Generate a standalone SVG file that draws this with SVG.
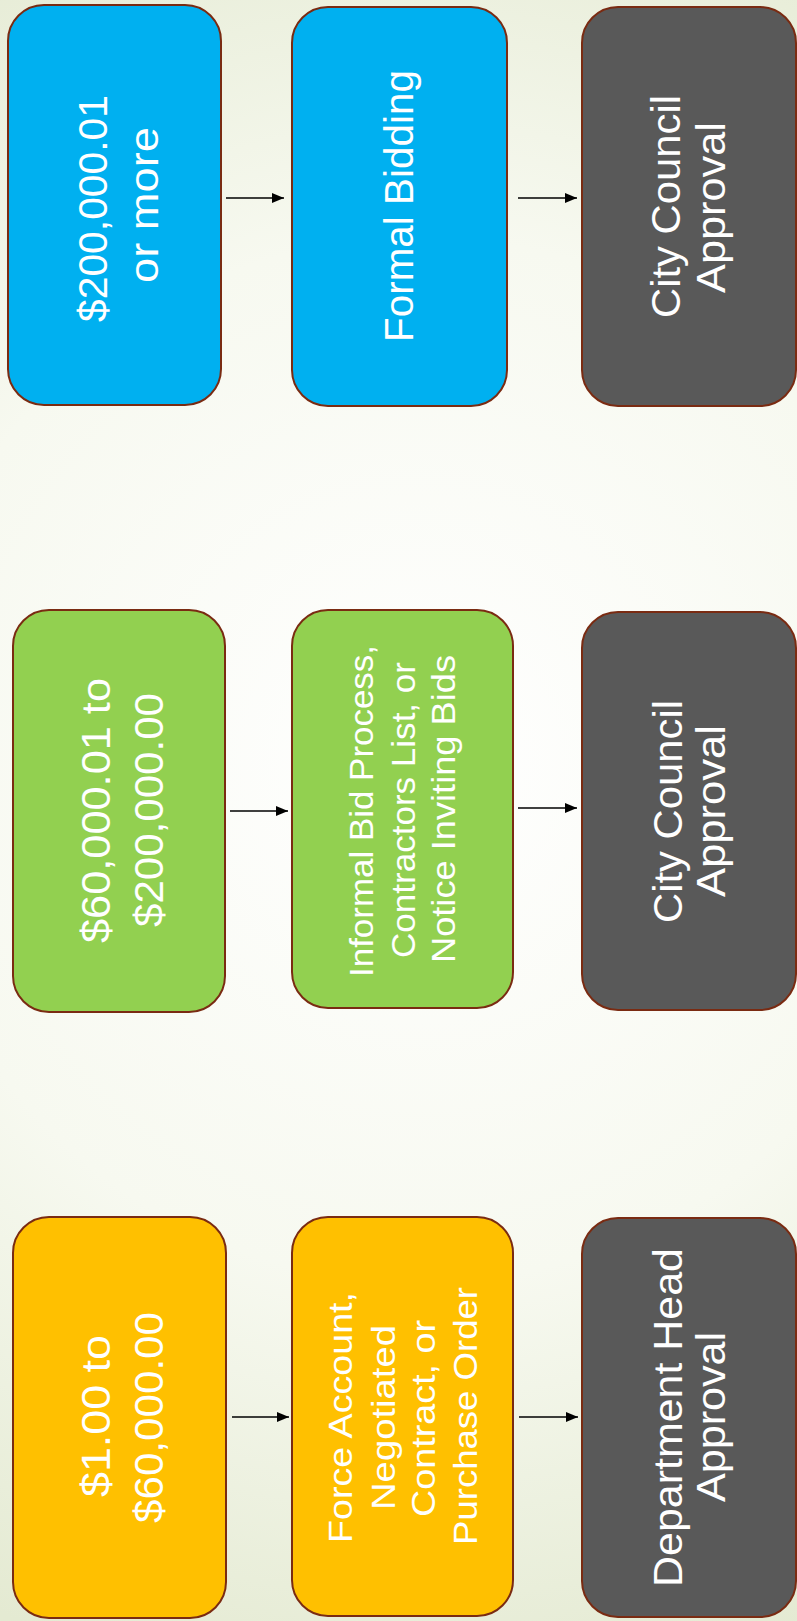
<svg xmlns="http://www.w3.org/2000/svg" width="797" height="1621" viewBox="0 0 797 1621">
<defs>
<radialGradient id="bg" gradientUnits="userSpaceOnUse" cx="420" cy="760" r="950">
<stop offset="0" stop-color="#ffffff"/>
<stop offset="0.55" stop-color="#f7f9f0"/>
<stop offset="1" stop-color="#e4ead2"/>
</radialGradient>
<marker id="ah" markerWidth="12" markerHeight="10" refX="12" refY="5" orient="auto" markerUnits="userSpaceOnUse">
<path d="M0,0 L12,5 L0,10 Z" fill="#000"/>
</marker>
<style>
.box{stroke:#7a2b12;stroke-width:2}
.blue{fill:#00b0f0}
.green{fill:#92d050}
.gold{fill:#ffc000}
.gray{fill:#595959}
text{font-family:"Liberation Sans",Arial,sans-serif;fill:#ffffff;text-anchor:middle}
.big{font-size:40px}
.mid{font-size:34px}
.conn line{stroke:#000;stroke-width:1.4;marker-end:url(#ah)}
</style>
</defs>
<rect x="0" y="0" width="797" height="1621" fill="url(#bg)"/>

<g id="a1">
<rect class="box blue" x="8" y="5" width="213" height="400" rx="36"/>
<text class="big" transform="rotate(-90)"><tspan x="-208.5" y="107" textLength="227" lengthAdjust="spacingAndGlyphs">$200,000.01</tspan><tspan x="-205" y="158" textLength="156" lengthAdjust="spacingAndGlyphs">or more</tspan></text>
</g>
<g id="a2">
<rect class="box blue" x="292" y="7" width="215" height="399" rx="36"/>
<text class="big" transform="rotate(-90)"><tspan x="-206" y="413" textLength="272" lengthAdjust="spacingAndGlyphs">Formal Bidding</tspan></text>
</g>
<g id="a3">
<rect class="box gray" x="582" y="7" width="214" height="399" rx="36"/>
<text class="big" transform="rotate(-90)"><tspan x="-206.5" y="680" textLength="223" lengthAdjust="spacingAndGlyphs">City Council</tspan><tspan x="-207.5" y="725" textLength="171" lengthAdjust="spacingAndGlyphs">Approval</tspan></text>
</g>

<g id="b1">
<rect class="box green" x="13" y="610" width="212" height="402" rx="36"/>
<text class="big" transform="rotate(-90)"><tspan x="-810.5" y="110" textLength="265" lengthAdjust="spacingAndGlyphs">$60,000.01 to</tspan><tspan x="-810" y="163" textLength="234" lengthAdjust="spacingAndGlyphs">$200,000.00</tspan></text>
</g>
<g id="b2">
<rect class="box green" x="292" y="610" width="221" height="398" rx="36"/>
<text class="mid" transform="rotate(-90)"><tspan x="-811" y="373" textLength="332" lengthAdjust="spacingAndGlyphs">Informal Bid Process,</tspan><tspan x="-810" y="415" textLength="296" lengthAdjust="spacingAndGlyphs">Contractors List, or</tspan><tspan x="-809" y="455" textLength="308" lengthAdjust="spacingAndGlyphs">Notice Inviting Bids</tspan></text>
</g>
<g id="b3">
<rect class="box gray" x="582" y="612" width="214" height="398" rx="36"/>
<text class="big" transform="rotate(-90)"><tspan x="-811.5" y="682" textLength="223" lengthAdjust="spacingAndGlyphs">City Council</tspan><tspan x="-811" y="725" textLength="172" lengthAdjust="spacingAndGlyphs">Approval</tspan></text>
</g>

<g id="c1">
<rect class="box gold" x="13" y="1217" width="213" height="401" rx="36"/>
<text class="big" transform="rotate(-90)"><tspan x="-1416" y="110" textLength="162" lengthAdjust="spacingAndGlyphs">$1.00 to</tspan><tspan x="-1417.5" y="163" textLength="211" lengthAdjust="spacingAndGlyphs">$60,000.00</tspan></text>
</g>
<g id="c2">
<rect class="box gold" x="292" y="1217" width="221" height="399" rx="36"/>
<text class="mid" transform="rotate(-90)"><tspan x="-1417.5" y="352" textLength="251" lengthAdjust="spacingAndGlyphs">Force Account,</tspan><tspan x="-1417.5" y="395" textLength="185" lengthAdjust="spacingAndGlyphs">Negotiated</tspan><tspan x="-1418.5" y="435" textLength="197" lengthAdjust="spacingAndGlyphs">Contract, or</tspan><tspan x="-1416" y="477" textLength="258" lengthAdjust="spacingAndGlyphs">Purchase Order</tspan></text>
</g>
<g id="c3">
<rect class="box gray" x="582" y="1218" width="214" height="399" rx="36"/>
<text class="big" transform="rotate(-90)"><tspan x="-1417.5" y="682" textLength="339" lengthAdjust="spacingAndGlyphs">Department Head</tspan><tspan x="-1417" y="725" textLength="170" lengthAdjust="spacingAndGlyphs">Approval</tspan></text>
</g>

<g id="connectors" class="conn">
<line x1="226" y1="198" x2="284" y2="198"/>
<line x1="518" y1="198" x2="577" y2="198"/>
<line x1="230" y1="811" x2="288" y2="811"/>
<line x1="518" y1="808" x2="577" y2="808"/>
<line x1="232" y1="1417" x2="289" y2="1417"/>
<line x1="519" y1="1417" x2="578" y2="1417"/>
</g>
</svg>
